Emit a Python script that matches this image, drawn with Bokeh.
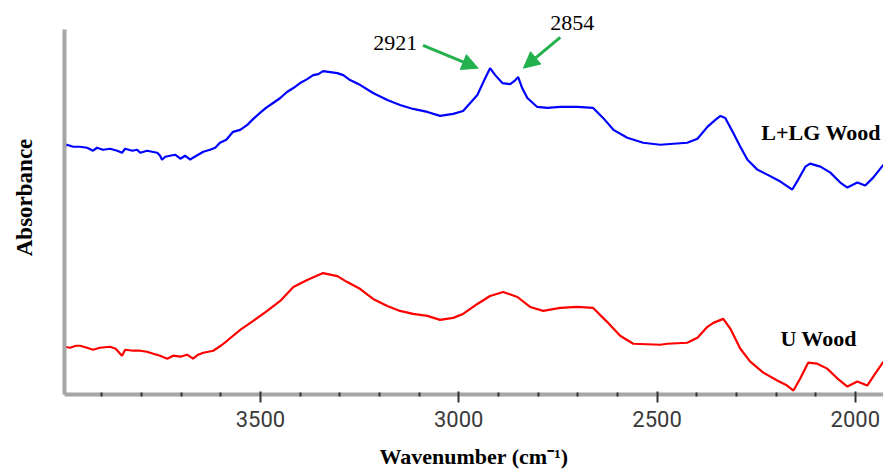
from bokeh.plotting import figure
from bokeh.models import Range1d, FixedTicker, Label, Arrow, NormalHead
from bokeh.embed import file_html
from bokeh.resources import INLINE

# ---- data (wavenumber in cm-1, absorbance in arbitrary units) ----
blue_wavenumber = [3995, 3988, 3972, 3955, 3937, 3922, 3912, 3897, 3879, 3861, 3849, 3841,
                   3823, 3811, 3803, 3786, 3760, 3753, 3748, 3740, 3728, 3715, 3702, 3690,
                   3677, 3670, 3657, 3644, 3627, 3614, 3602, 3586, 3569, 3551, 3533, 3518,
                   3501, 3486, 3468, 3450, 3433, 3417, 3400, 3382, 3367, 3354, 3342, 3324,
                   3306, 3291, 3274, 3248, 3216, 3180, 3148, 3115, 3079, 3047, 3014, 2989,
                   2971, 2953, 2938, 2921, 2908, 2890, 2870, 2857, 2850, 2840, 2827, 2802,
                   2777, 2744, 2701, 2661, 2636, 2610, 2575, 2535, 2492, 2459, 2424, 2398,
                   2373, 2353, 2340, 2328, 2308, 2290, 2272, 2247, 2222, 2189, 2159, 2144,
                   2126, 2114, 2088, 2063, 2038, 2020, 1995, 1975, 1955, 1929]
blue_absorbance = [2.49, 2.51, 2.49, 2.49, 2.48, 2.45, 2.48, 2.46, 2.47, 2.45, 2.43, 2.47,
                   2.45, 2.46, 2.43, 2.45, 2.43, 2.40, 2.36, 2.39, 2.40, 2.41, 2.37, 2.40,
                   2.36, 2.38, 2.41, 2.44, 2.46, 2.48, 2.53, 2.56, 2.64, 2.66, 2.71, 2.77,
                   2.83, 2.88, 2.93, 2.98, 3.04, 3.08, 3.13, 3.17, 3.21, 3.22, 3.25, 3.24,
                   3.23, 3.21, 3.16, 3.11, 3.03, 2.96, 2.91, 2.87, 2.84, 2.80, 2.82, 2.85,
                   2.93, 3.01, 3.14, 3.28, 3.21, 3.13, 3.12, 3.16, 3.19, 3.08, 2.98, 2.89,
                   2.88, 2.89, 2.89, 2.88, 2.78, 2.66, 2.58, 2.53, 2.51, 2.52, 2.53, 2.57,
                   2.69, 2.76, 2.80, 2.78, 2.63, 2.49, 2.36, 2.26, 2.21, 2.14, 2.06, 2.16,
                   2.29, 2.32, 2.29, 2.23, 2.13, 2.08, 2.13, 2.10, 2.18, 2.31]

red_wavenumber = [3995, 3980, 3965, 3955, 3937, 3922, 3905, 3879, 3865, 3849, 3841, 3820,
                  3803, 3786, 3770, 3753, 3735, 3720, 3702, 3685, 3670, 3657, 3644, 3619,
                  3600, 3584, 3551, 3518, 3483, 3450, 3417, 3382, 3342, 3306, 3281, 3248,
                  3216, 3180, 3148, 3115, 3079, 3047, 3014, 2989, 2953, 2921, 2888, 2852,
                  2820, 2787, 2744, 2701, 2661, 2626, 2593, 2560, 2492, 2474, 2424, 2398,
                  2373, 2358, 2333, 2315, 2290, 2265, 2232, 2197, 2172, 2156, 2139, 2119,
                  2096, 2071, 2045, 2020, 1995, 1970, 1950, 1929]
red_absorbance = [0.48, 0.47, 0.49, 0.49, 0.47, 0.45, 0.47, 0.48, 0.46, 0.39, 0.45, 0.44,
                  0.44, 0.43, 0.41, 0.39, 0.36, 0.39, 0.38, 0.40, 0.36, 0.40, 0.42, 0.44,
                  0.49, 0.54, 0.65, 0.74, 0.84, 0.94, 1.08, 1.15, 1.22, 1.19, 1.13, 1.06,
                  0.96, 0.89, 0.84, 0.81, 0.79, 0.75, 0.77, 0.81, 0.91, 0.99, 1.03, 0.98,
                  0.88, 0.84, 0.87, 0.88, 0.87, 0.73, 0.59, 0.51, 0.50, 0.51, 0.52, 0.57,
                  0.68, 0.72, 0.76, 0.66, 0.46, 0.33, 0.22, 0.14, 0.09, 0.04, 0.16, 0.32,
                  0.31, 0.26, 0.16, 0.08, 0.13, 0.09, 0.21, 0.33]

major_ticks = [3500, 3000, 2500, 2000]
minor_ticks = [3900, 3800, 3700, 3600, 3400, 3300, 3200, 3100, 2900, 2800, 2700,
               2600, 2400, 2300, 2200, 2100, 1900]

x_limits = (3994, 1929)
y_axis_extent = (0, 3.67)   # extent of the drawn vertical axis
y_view = (0, 3.96)          # visible range (room for the top annotation)

peak_labels = ["2921", "2854"]
peak_label_pos = [(3160, 3.53), (2714, 3.73)]
peak_arrows = [((3090, 3.51), (2951, 3.28)), ((2744, 3.59), (2837, 3.28))]

series_labels = ["L+LG Wood", "U Wood"]
series_label_pos = [(2237, 2.63), (2189, 0.56)]

GREEN = "#22b14c"
AXIS_GRAY = "#a6a6a6"

p = figure(width=883, height=471, output_backend="svg", toolbar_location=None,
           x_range=Range1d(*x_limits), y_range=Range1d(*y_view),
           min_border_left=64, min_border_right=0, min_border_top=0,
           min_border_bottom=75)
p.outline_line_color = None
p.grid.visible = False
p.background_fill_color = "white"
p.border_fill_color = "white"

p.line(blue_wavenumber, blue_absorbance, line_color="#0000ff", line_width=2.2)
p.line(red_wavenumber, red_absorbance, line_color="#ff0000", line_width=2.2)

# x axis
xa = p.xaxis[0]
xa.ticker = FixedTicker(ticks=major_ticks, minor_ticks=minor_ticks)
xa.axis_line_color = AXIS_GRAY
xa.axis_line_width = 4
xa.major_tick_line_color = "#333333"
xa.major_tick_line_width = 2
xa.major_tick_in = 3
xa.major_tick_out = 8
xa.minor_tick_line_color = "#333333"
xa.minor_tick_line_width = 2
xa.minor_tick_in = 2
xa.minor_tick_out = 2
xa.major_label_text_font = "Roboto"
xa.major_label_text_font_size = "22px"
xa.major_label_text_color = "#3a3a3a"
xa.major_label_standoff = 8
xa.axis_label = "Wavenumber (cm\u207b\u00b9)"
xa.axis_label_text_font = "Liberation Serif"
xa.axis_label_text_font_style = "bold"
xa.axis_label_text_font_size = "22px"
xa.axis_label_text_color = "#000000"
xa.axis_label_standoff = 14

# y axis
ya = p.yaxis[0]
ya.ticker = FixedTicker(ticks=[])
ya.bounds = y_axis_extent
ya.axis_line_color = AXIS_GRAY
ya.axis_line_width = 4
ya.major_tick_line_color = None
ya.minor_tick_line_color = None
ya.major_tick_in = 0
ya.major_tick_out = 0
ya.major_label_standoff = 0
ya.axis_label = "Absorbance"
ya.axis_label_text_font = "Liberation Serif"
ya.axis_label_text_font_style = "bold"
ya.axis_label_text_font_size = "23px"
ya.axis_label_text_color = "#000000"
ya.axis_label_standoff = 28

for txt, (x, y) in zip(peak_labels, peak_label_pos):
    p.add_layout(Label(x=x, y=y, text=txt, text_font="Liberation Serif",
                       text_font_size="22px", text_color="#000000",
                       text_align="center", text_baseline="middle"))

for (x0, y0), (x1, y1) in peak_arrows:
    p.add_layout(Arrow(x_start=x0, y_start=y0, x_end=x1, y_end=y1,
                       line_color=GREEN, line_width=3,
                       end=NormalHead(size=16, fill_color=GREEN, line_color=GREEN)))

for txt, (x, y) in zip(series_labels, series_label_pos):
    p.add_layout(Label(x=x, y=y, text=txt, text_font="Liberation Serif",
                       text_font_style="bold", text_font_size="22px",
                       text_color="#000000", text_align="left",
                       text_baseline="middle"))

open("out.html", "w").write(file_html(p, INLINE))
